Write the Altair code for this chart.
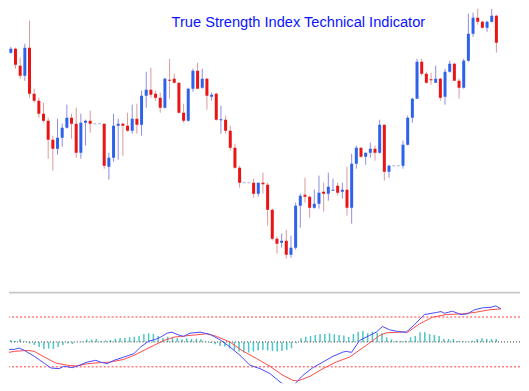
import altair as alt
import pandas as pd

title_text = "True Strength Index Technical Indicator"

# ---- price candles (arbitrary price units) ----
opens = [234, 248, 252, 235, 225, 253, 207, 200, 187, 180,
         161, 152, 163, 173, 183, 177, 148, 178, 180, 177,
         177, 177, 134, 143, 175, 177, 175, 170, 182, 176,
         205, 211, 207, 203, 193, 221, 222, 218, 188, 180,
         212, 230, 213, 222, 204, 207, 180.5, 181, 170, 153,
         133, 118, 118, 118, 107, 118, 116, 91, 62, 58,
         60, 46, 53, 95, 106, 104, 93, 97, 109, 107,
         110, 115, 109, 111, 93, 137, 153, 144, 148, 152,
         148, 176, 129, 135, 135, 135, 156, 183, 202, 239,
         227, 221.5, 218, 222, 204, 229, 237, 220, 213, 240,
         267, 283, 279, 273, 279, 285]
highs = [250, 254, 253, 243, 257, 280, 212, 203, 198, 183,
         165, 182, 177, 196, 187, 193, 187, 181, 190, 177,
         177, 177, 148, 187, 182, 178, 188, 196, 197, 210,
         229, 233, 210, 208, 223, 242, 227, 218, 197, 213,
         232, 238, 232, 223, 208, 208, 195, 185, 175, 157,
         135, 118, 118, 122, 118, 128, 118, 92, 64, 67,
         71, 65, 98, 107, 123, 105, 111, 125, 118, 128,
         122, 118, 118, 134, 147, 155, 153, 148, 158, 155,
         181, 176, 136, 135, 135, 160, 185, 203, 242, 242,
         229, 228, 235, 223, 232, 240, 238, 222, 242, 287,
         288, 293, 280, 280, 292, 286]
lows = [232, 247, 232, 222, 220, 203, 198, 183, 178, 142,
        130, 146, 154, 172, 162, 143, 142, 155, 168, 177,
        177, 132, 121, 139, 141, 145, 169, 167, 167, 165,
        193, 203, 200, 188, 192, 202, 217, 187, 178, 179,
        209, 212, 212, 191, 200, 180, 167, 167, 150, 132,
        113, 118, 118, 103, 104, 107, 75, 60, 47, 53,
        42, 43, 51, 73, 98, 83, 92, 92, 89, 100,
        110, 105, 102, 85, 77, 132, 143, 136, 143, 140,
        147, 120, 123, 135, 135, 132, 155, 178, 202, 225,
        217, 216, 218, 200, 196, 228, 220, 202, 212, 239,
        264, 276, 272, 269, 278, 248]
closes = [248, 252, 236, 225, 253, 207, 200, 187, 180, 161,
          152, 163, 173, 183, 177, 148, 178, 180, 177, 177,
          177, 135, 143, 175, 177, 175, 170, 182, 176, 205,
          211, 206, 203, 193, 222, 220, 218, 188, 180, 212,
          230, 212, 222, 205, 206, 181, 181.5, 170, 153, 133,
          118, 118, 118, 107, 118, 116.5, 91, 62, 57, 60,
          46, 53, 95, 105, 104, 93, 97, 108, 107, 114,
          111, 108, 111, 93, 137, 153, 144, 148, 152, 148,
          176, 129, 135, 135, 135, 156, 183, 202, 239, 227,
          218, 220.5, 222, 203, 229, 237, 220, 213, 240, 267,
          283, 279, 273, 279, 285, 258]
flat_bars = [20, 21, 52, 53, 84, 85]

# ---- True Strength Index panel ----
tsi_x = [1, 2.4, 3.8, 4.8, 5.9, 8.0, 10.1, 11.5, 13.2, 14.2,
         16, 17.4, 19.1, 20.9, 21.9, 23.3, 24.7, 26.8, 28.9, 30.3,
         32.0, 33.4, 34.5, 35.9, 36.9, 38, 39.3, 40.7, 42.8, 44.9,
         47, 49.1, 51.2, 53.3, 55.4, 57.5, 59.6, 61, 62, 63.1,
         64.4, 66.5, 68.6, 70.7, 72.8, 73.5, 74.6, 76.3, 78.4, 79.8,
         81.1, 82.6, 84.3, 86.1, 87.8, 89.9, 92.4, 93.4, 94.1, 95.8,
         97.6, 99, 100.4, 102.1, 103.9, 104.9, 106]
tsi_v = [-9.2, -7.5, -7.5, -6.2, -8.5, -14.5, -21.5, -26.2, -26.8, -24.5,
         -25.8, -23.5, -20.2, -18.5, -20.2, -21.8, -18.5, -15.2, -11.8, -5.2,
         0.8, 2.5, 4.8, 8.8, 9.8, 7.5, 5.5, 8.8, 9.8, 7.5,
         2.2, -5.2, -13.5, -23.5, -26.8, -31.8, -40.2, -44.5, -45.8, -40.2,
         -33.5, -25.8, -20.2, -14.5, -10.2, -9.5, -10.5, 1.5, 6.5, 9.8,
         15.5, 12.2, 10.5, 9.8, 17.2, 27.5, 29.5, 30.5, 28.8, 30.8,
         27.5, 28.2, 32.2, 34.2, 34.8, 36.2, 33.2]
sig_x = [1, 3.8, 6.6, 8, 10.1, 12.5, 15, 17, 19.1, 21.9,
         24, 26.8, 28.9, 31, 33.1, 35.2, 37.3, 38.7, 40.7, 44.2,
         46.3, 49.1, 51.8, 54.7, 57.5, 60.2, 62.3, 63.3, 65.9, 68.6,
         71.4, 74.2, 77.7, 80.5, 81.9, 84.7, 86.4, 88.9, 91.6, 94.5,
         97.9, 100.7, 103.5, 106]
sig_v = [-11.8, -9.5, -8.5, -9.5, -15.2, -21.2, -23.5, -24.2, -21.8, -20.8,
         -20.2, -17.5, -13.5, -8.5, -3.5, 1.5, 4.8, 5.5, 6.5, 8.2,
         5.5, -0.2, -9.2, -16.8, -24.5, -33.5, -38.5, -39.2, -34.5, -26.8,
         -20.2, -15.2, -3.5, 6.5, 9.2, 9.8, 9.8, 18.2, 24.8, 27.5,
         28.2, 29.8, 32.2, 33.2]
hist_v = [3, 2, 2, 1, 3, 0.5, -1.5, -3, -5, -7,
          -6.5, -7, -5, -3, -1.5, -2, 0, 0.5, 2.5, 2.5,
          3, 1, 1.5, 2, 3.3, 4, 4, 4.7, 5.3, 6,
          8, 8.7, 8, 6, 4, 5.3, 4.5, 3.7, 2.7, 3.7,
          3, 3.3, 2.7, 0.5, -1, -2.3, -4, -4.7, -6.3, -8,
          -9.7, -10.7, -10.7, -9.7, -8.7, -8, -8.7, -9, -9.7, -9,
          -8, -6.3, -1.3, 3.7, 5.3, 6, 7, 8, 8, 8.7,
          7.7, 7, 6.5, 5, 8, 10.3, 11, 8.7, 10.3, 9.3,
          8.7, 4.7, 2.7, 1.3, 1, 1.3, 4.7, 6, 9.7, 9.7,
          8, 7, 6, 3, 3, 3, 1, 0.7, 0.3, 1.3,
          3, 3.7, 3, 3, 3, 0]
levels = [25, -25]

# ---- tables ----
idx = list(range(1, len(opens) + 1))
cdf = pd.DataFrame({"i": idx, "open": opens, "high": highs, "low": lows, "close": closes})
cdf["kind"] = ["flat" if i in flat_bars else ("up" if c >= o else "down")
               for i, o, c in zip(idx, opens, closes)]
candles = cdf[cdf["kind"] != "flat"]
flats = cdf[cdf["kind"] == "flat"]
tsi_df = pd.DataFrame({"i": tsi_x, "v": tsi_v})
sig_df = pd.DataFrame({"i": sig_x, "v": sig_v})
hist_df = pd.DataFrame({"i": idx, "v": hist_v, "z": [0] * len(idx)})
lev_df = pd.DataFrame({"v": levels})
zero_df = pd.DataFrame({"v": [0]})
title_df = pd.DataFrame({"t": [title_text]})

W = 513
xs = alt.Scale(domain=[2.674, 109.99], nice=False, zero=False)
ps = alt.Scale(domain=[9, 292], nice=False, zero=False)
ts = alt.Scale(domain=[-41.5, 49.5], nice=False, zero=False)

X = alt.X("i:Q", scale=xs, axis=None)

wick = alt.Chart(candles).mark_rule(strokeWidth=1, clip=True).encode(
    x=X,
    y=alt.Y("low:Q", scale=ps, axis=None),
    y2="high:Q",
    color=alt.Color("kind:N", scale=alt.Scale(domain=["up", "down"], range=["#8c8ce8", "#dc9a9a"]), legend=None),
)
body = alt.Chart(candles).mark_bar(size=3, clip=True).encode(
    x=X,
    y=alt.Y("open:Q", scale=ps, axis=None),
    y2="close:Q",
    color=alt.Color("kind:N", scale=alt.Scale(domain=["up", "down"], range=["#2f62ea", "#ea1414"]), legend=None),
)
flat_mark = alt.Chart(flats).mark_tick(orient="horizontal", size=3, thickness=1, color="#7f8fd6", clip=True).encode(
    x=X,
    y=alt.Y("close:Q", scale=ps, axis=None),
)
title_mark = alt.Chart(title_df).mark_text(
    font="Liberation Sans", fontSize=14.7, color="#0a14ff", align="center", baseline="middle"
).encode(text="t:N", x=alt.value(290.5), y=alt.value(14))

top = alt.layer(wick, body, flat_mark, title_mark).resolve_scale(color="independent").properties(width=W, height=284)

sep = alt.Chart(zero_df).mark_rule(color="#c8c8c8", strokeWidth=2).encode(y=alt.value(0))
lev = alt.Chart(lev_df).mark_rule(color="#ff3c3c", strokeDash=[2, 2], strokeWidth=1).encode(
    y=alt.Y("v:Q", scale=ts, axis=None))
hist = alt.Chart(hist_df).mark_rule(color="#4cc6c6", strokeWidth=1.5, clip=True).encode(
    x=X, y=alt.Y("v:Q", scale=ts, axis=None), y2="z:Q")
zero = alt.Chart(zero_df).mark_rule(color="#333333", strokeDash=[1, 2], strokeWidth=1).encode(
    y=alt.Y("v:Q", scale=ts, axis=None))
sig_line = alt.Chart(sig_df).mark_line(color="#ff4a4a", strokeWidth=1, clip=True).encode(
    x=X, y=alt.Y("v:Q", scale=ts, axis=None))
tsi_line = alt.Chart(tsi_df).mark_line(color="#4a4aff", strokeWidth=1, clip=True).encode(
    x=X, y=alt.Y("v:Q", scale=ts, axis=None))

bottom = alt.layer(sep, lev, hist, zero, sig_line, tsi_line).properties(width=W, height=91)

chart = alt.vconcat(top, bottom, spacing=0).properties(padding=0, background="white").configure_view(stroke=None)

chart.save("out.html", embed_options={"renderer": "svg", "actions": False})
